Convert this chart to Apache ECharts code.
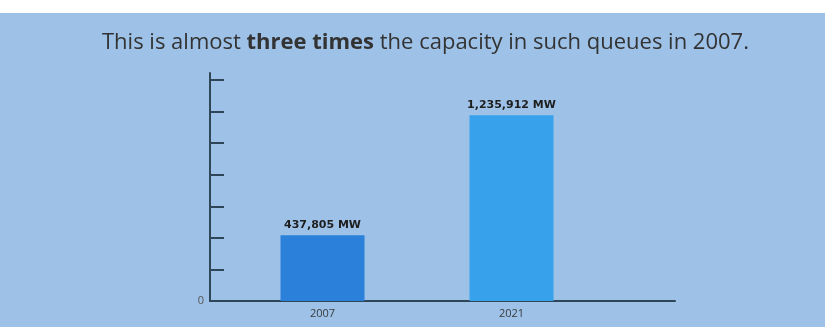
<!DOCTYPE html>
<html>
<head>
<meta charset="utf-8">
<script src="https://cdn.jsdelivr.net/npm/echarts@6/dist/echarts.min.js"></script>
<style>
html,body{margin:0;padding:0;background:#ffffff;}
#chart{width:825px;height:327px;}
</style>
</head>
<body>
<div id="chart"></div>
<script>
const categories = ['2007', '2021'];
const capacityMW = [437805, 1235912];
const barColors = ['#2b80d9', '#38a1ec'];
const yTicks = [0, 210000, 420000, 630000, 840000, 1050000, 1260000, 1470000];

const chart = echarts.init(document.getElementById('chart'));
const axisColor = '#2f4558';
chart.setOption({
  backgroundColor: 'transparent',
  animation: false,
  graphic: [
    { type: 'rect', left: 0, top: 13, shape: { width: 825, height: 314 }, style: { fill: '#9dc1e7' }, z: -10, silent: true }
  ],
  title: {
    left: 97,
    top: 27,
    text: '{n|This is almost }{b|three times}{n| the capacity in such queues in 2007.}',
    textStyle: {
      fontWeight: 'normal',
      rich: {
        n: { fontFamily: 'Open Sans', fontSize: 22, fontWeight: 'normal', color: '#333333' },
        b: { fontFamily: 'Open Sans', fontSize: 22, fontWeight: 'bold', color: '#333333' }
      }
    }
  },
  grid: [
    { left: 228, right: 219, top: 80, bottom: 26 },
    { left: 210, right: 150, top: 73, bottom: 26 }
  ],
  xAxis: [
    {
      type: 'category', gridIndex: 0, data: categories,
      axisLine: { show: false }, axisTick: { show: false },
      axisLabel: { color: '#3a3a3a', fontSize: 11, fontFamily: 'Open Sans', margin: 7 }
    },
    {
      type: 'value', gridIndex: 1, min: 0, max: 1,
      axisLine: { show: true, lineStyle: { color: axisColor, width: 2 } },
      axisTick: { show: false }, axisLabel: { show: false }, splitLine: { show: false }
    }
  ],
  yAxis: [
    {
      type: 'value', gridIndex: 0, min: yTicks[0], max: yTicks[yTicks.length - 1],
      interval: yTicks[1] - yTicks[0], offset: 18,
      axisLine: { show: false },
      axisTick: { show: true, inside: true, length: 14, lineStyle: { color: axisColor, width: 2 } },
      axisLabel: {
        color: '#555555', fontSize: 11, fontFamily: 'Open Sans', margin: 6,
        formatter: v => (v === 0 ? '0' : '')
      },
      splitLine: { show: false }
    },
    {
      type: 'value', gridIndex: 1, min: 0, max: 1,
      axisLine: { show: true, lineStyle: { color: axisColor, width: 2 } },
      axisTick: { show: false }, axisLabel: { show: false }, splitLine: { show: false }
    }
  ],
  series: [
    {
      type: 'bar', xAxisIndex: 0, yAxisIndex: 0, barWidth: 84,
      data: capacityMW.map((v, i) => ({ value: v, itemStyle: { color: barColors[i] } })),
      label: {
        show: true, position: 'top', distance: 5,
        color: '#1e1e1e', fontSize: 11, fontWeight: 'bold', fontFamily: 'DejaVu Sans',
        formatter: p => p.value.toLocaleString('en-US') + ' MW'
      }
    }
  ]
});
</script>
</body>
</html>
